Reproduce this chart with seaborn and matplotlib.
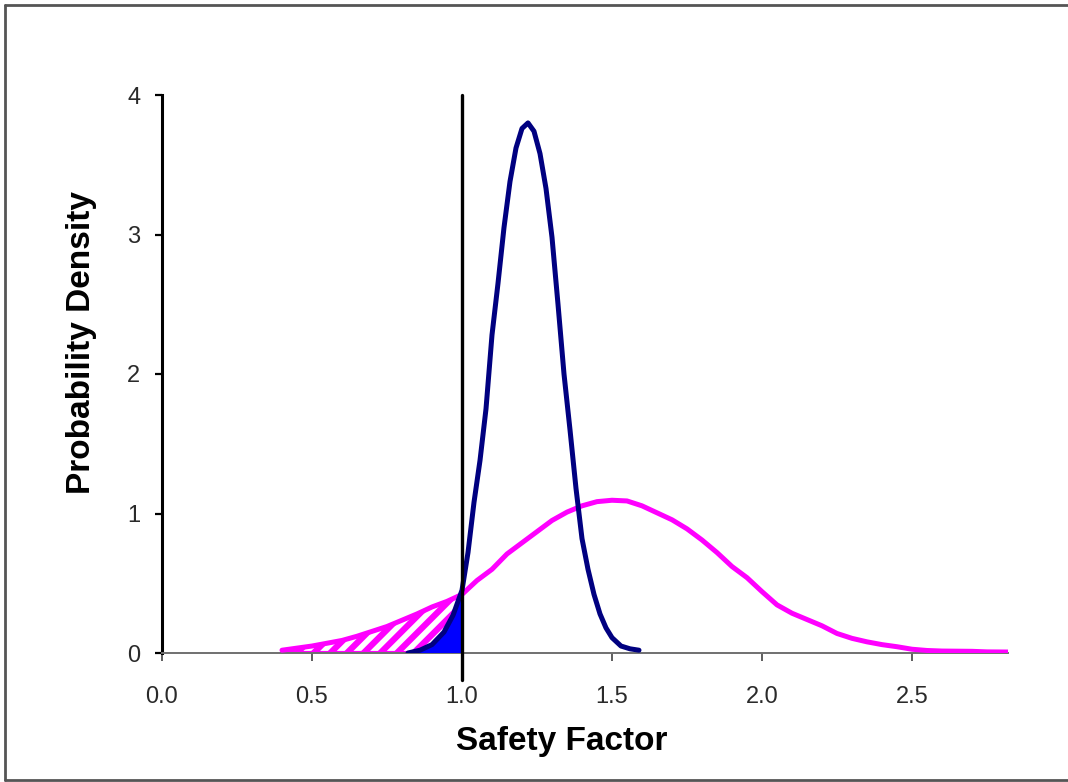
import matplotlib
matplotlib.use("Agg")
import matplotlib.pyplot as plt
from matplotlib.lines import Line2D
import numpy as np
import pandas as pd
import seaborn as sns

# Safety-factor density of the narrow (deterministic-design) distribution
blue_x = [0.82, 0.86, 0.90, 0.94, 0.97, 1.00, 1.02, 1.04, 1.06, 1.08, 1.10,
          1.12, 1.14, 1.16, 1.18, 1.20, 1.22, 1.24, 1.26, 1.28, 1.30, 1.32,
          1.34, 1.36, 1.38, 1.40, 1.42, 1.44, 1.46, 1.48, 1.50, 1.53, 1.56, 1.59]
blue_y = [0.00, 0.02, 0.06, 0.15, 0.27, 0.45, 0.72, 1.08, 1.38, 1.75, 2.28,
          2.65, 3.05, 3.38, 3.62, 3.76, 3.80, 3.74, 3.58, 3.33, 2.98, 2.50,
          2.00, 1.60, 1.18, 0.82, 0.60, 0.42, 0.28, 0.18, 0.11, 0.05, 0.03, 0.02]

# Safety-factor density of the wide distribution
mag_x = [0.40, 0.45, 0.50, 0.55, 0.60, 0.65, 0.70, 0.75, 0.80, 0.85, 0.90,
         0.95, 1.00, 1.05, 1.10, 1.15, 1.20, 1.25, 1.30, 1.35, 1.40, 1.45,
         1.50, 1.55, 1.60, 1.65, 1.70, 1.75, 1.80, 1.85, 1.90, 1.95, 2.00,
         2.05, 2.10, 2.15, 2.20, 2.25, 2.30, 2.35, 2.40, 2.45, 2.50, 2.55,
         2.60, 2.65, 2.70, 2.75, 2.82]
mag_y = [0.020, 0.035, 0.050, 0.070, 0.090, 0.120, 0.155, 0.190, 0.235, 0.280,
         0.330, 0.370, 0.420, 0.520, 0.600, 0.710, 0.790, 0.870, 0.950, 1.010,
         1.055, 1.085, 1.095, 1.090, 1.055, 1.005, 0.955, 0.890, 0.810, 0.720,
         0.620, 0.540, 0.440, 0.345, 0.285, 0.240, 0.195, 0.140, 0.105, 0.080,
         0.060, 0.045, 0.027, 0.018, 0.014, 0.013, 0.012, 0.008, 0.007]

x_ticks = [0.0, 0.5, 1.0, 1.5, 2.0, 2.5]
x_tick_labels = ["0.0", "0.5", "1.0", "1.5", "2.0", "2.5"]
y_ticks = [0, 1, 2, 3, 4]
y_tick_labels = ["0", "1", "2", "3", "4"]
failure_limit = 1.0

sns.set_theme(style="white")
plt.rcParams["font.family"] = ["Liberation Sans", "DejaVu Sans"]
plt.rcParams["hatch.linewidth"] = 4.5
plt.rcParams["hatch.color"] = "#FF00FF"

blue_df = pd.DataFrame({"sf": blue_x, "density": blue_y})
mag_df = pd.DataFrame({"sf": mag_x, "density": mag_y})

W, H = 1068, 782
fig = plt.figure(figsize=(W / 100, H / 100), dpi=100)
fig.patch.set_facecolor("white")
ax = fig.add_axes([162 / W, 129 / H, 846 / W, 558 / H])
ax.set_facecolor("white")

# hatched failure region under the wide curve
m_fail = mag_df[mag_df.sf <= failure_limit]
ax.fill_between(m_fail.sf, 0, m_fail.density, facecolor="white",
                edgecolor="#FF00FF", hatch="//", linewidth=0, zorder=2)
ax.plot(m_fail.sf, np.zeros(len(m_fail)), color="#FF00FF", lw=3,
        solid_capstyle="butt", zorder=2)

# solid failure region under the narrow curve
b_fail = blue_df[blue_df.sf <= failure_limit]
ax.fill_between(b_fail.sf, 0, b_fail.density, facecolor="#0000FF",
                edgecolor="none", zorder=3)
ax.plot(b_fail.sf, b_fail.density, color="black", lw=2, zorder=3)

sns.lineplot(data=mag_df, x="sf", y="density", ax=ax, color="#FF00FF",
             lw=3.6, sort=False, estimator=None, zorder=4)
sns.lineplot(data=blue_df, x="sf", y="density", ax=ax, color="#000080",
             lw=3.6, sort=False, estimator=None, zorder=5)

ax.axvline(failure_limit, ymin=-0.048, ymax=1.0, color="black", lw=2.4,
           clip_on=False, zorder=6)

ax.set_xlim(0, 2.82)
ax.set_ylim(0, 4)
ax.set_xticks(x_ticks)
ax.set_xticklabels(x_tick_labels)
ax.set_yticks(y_ticks)
ax.set_yticklabels(y_tick_labels)

for side in ("top", "right"):
    ax.spines[side].set_visible(False)
ax.spines["left"].set_color("black")
ax.spines["left"].set_linewidth(2.2)
ax.spines["bottom"].set_color("#707070")
ax.spines["bottom"].set_linewidth(1.4)

ax.tick_params(axis="x", direction="out", length=5.8, width=1.3,
               color="#505050", labelsize=17, labelcolor="#2a2a2a", pad=18,
               bottom=True)
ax.tick_params(axis="y", direction="out", length=5.2, width=1.6,
               color="black", labelsize=17, labelcolor="#2a2a2a", pad=10.5,
               left=True)

ax.set_xlabel("Safety Factor", fontsize=24, fontweight="bold", labelpad=13,
              color="black")
ax.xaxis.label.set_x(0.472)
ax.set_ylabel("Probability Density", fontsize=24, fontweight="bold",
              labelpad=22, color="black")
ax.yaxis.label.set_y(0.557)

# page frame (left, top and bottom edges)
frame_kw = dict(transform=fig.transFigure, color="#555555", lw=2,
                clip_on=False)
fig.add_artist(Line2D([5 / W, 5 / W], [2 / H, 1 - 5 / H], **frame_kw))
fig.add_artist(Line2D([5 / W, 1.0], [1 - 5 / H, 1 - 5 / H], **frame_kw))
fig.add_artist(Line2D([5 / W, 1.0], [2 / H, 2 / H], **frame_kw))

fig.savefig("out.png", dpi=100, facecolor="white")
